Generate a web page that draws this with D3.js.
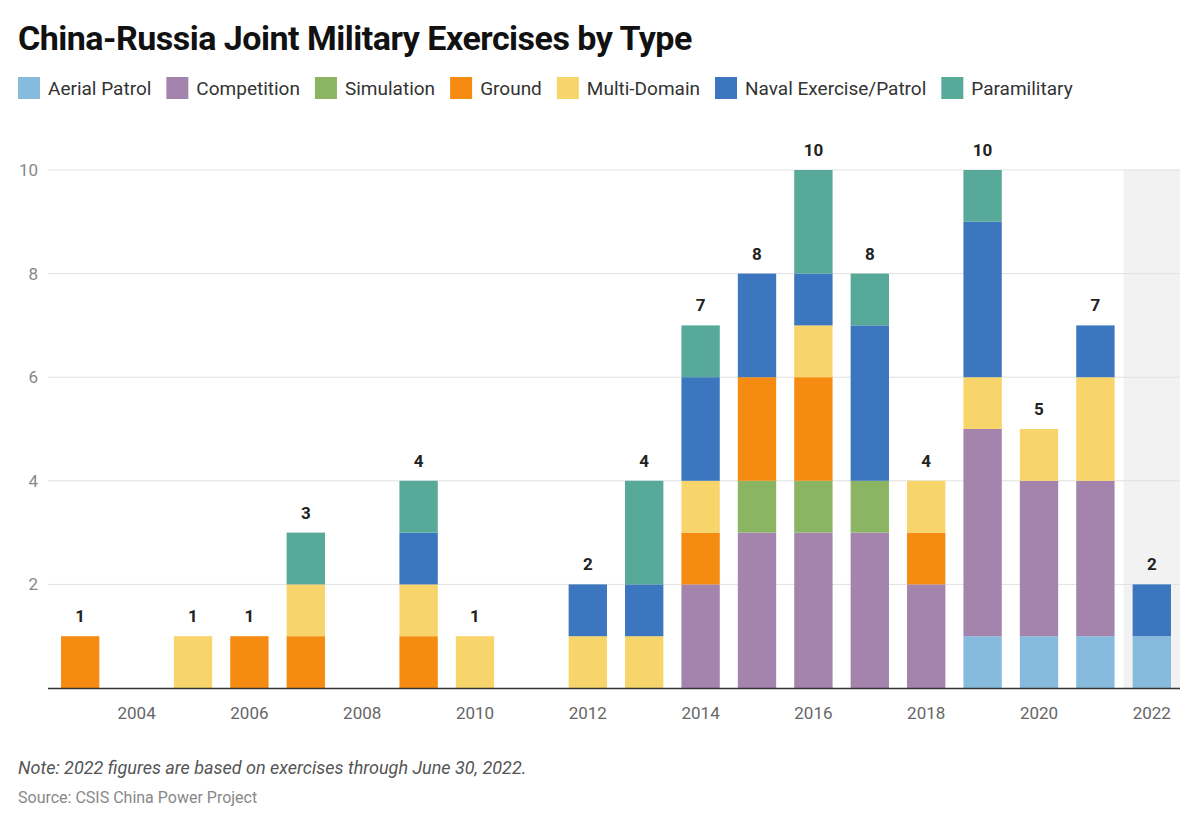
<!DOCTYPE html><html><head><meta charset="utf-8"><script src="https://cdn.jsdelivr.net/npm/d3@7"></script>
<style>body{margin:0;background:#fff;font-family:Roboto,sans-serif}</style></head><body><svg id="c" width="1200" height="825"></svg>
<script>
const years=d3.range(2003,2023);
const seriesNames=["Aerial Patrol","Competition","Simulation","Ground","Multi-Domain","Naval Exercise/Patrol","Paramilitary"];
const colors=["#86bbdd","#a484ac","#8cb563","#f68b12","#f7d56b","#3b76bf","#57a99a"];
const aerial     =[0,0,0,0,0,0,0,0,0,0,0,0,0,0,0,0,1,1,1,1];
const competition=[0,0,0,0,0,0,0,0,0,0,0,2,3,3,3,2,4,3,3,0];
const simulation =[0,0,0,0,0,0,0,0,0,0,0,0,1,1,1,0,0,0,0,0];
const ground     =[1,0,0,1,1,0,1,0,0,0,0,1,2,2,0,1,0,0,0,0];
const multi      =[0,0,1,0,1,0,1,1,0,1,1,1,0,1,0,1,1,1,2,0];
const naval      =[0,0,0,0,0,0,1,0,0,1,1,2,2,1,3,0,3,0,1,1];
const para       =[0,0,0,0,1,0,1,0,0,0,2,1,0,2,1,0,1,0,0,0];
const yTicks=[2,4,6,8,10];
const xTickYears=[2004,2006,2008,2010,2012,2014,2016,2018,2020,2022];
const all=[aerial,competition,simulation,ground,multi,naval,para];
const rows=years.map((y,i)=>{const r={year:y};seriesNames.forEach((s,k)=>r[s]=all[k][i]);return r;});
const svg=d3.select("#c");
const x=d3.scaleBand().domain(years).range([52,1180]).paddingInner(0.32).paddingOuter(0.16);
const y=d3.scaleLinear().domain([0,10]).range([688,170]);
svg.append("rect").attr("x",x(2022)-x.step()*x.paddingInner()/2).attr("y",170).attr("width",1180-(x(2022)-x.step()*x.paddingInner()/2)).attr("height",518).attr("fill","#f2f2f2");
svg.append("g").selectAll("line").data(yTicks).join("line").attr("x1",48).attr("x2",1180).attr("y1",d=>y(d)).attr("y2",d=>y(d)).attr("stroke","#e0e0e0");
svg.append("g").selectAll("text").data(yTicks).join("text").attr("x",38).attr("y",d=>y(d)+6).attr("text-anchor","end").attr("font-size",17).attr("fill","#888").text(d=>d);
const stack=d3.stack().keys(seriesNames)(rows);
svg.append("g").selectAll("g").data(stack).join("g").attr("fill",(d,i)=>colors[i])
 .selectAll("rect").data(d=>d.filter(p=>p[1]>p[0])).join("rect")
 .attr("x",d=>x(d.data.year)).attr("width",x.bandwidth()).attr("y",d=>y(d[1])).attr("height",d=>y(d[0])-y(d[1]));
svg.append("line").attr("x1",48).attr("x2",1180).attr("y1",688.5).attr("y2",688.5).attr("stroke","#333").attr("stroke-width",1.5);
const totals=rows.map(r=>({year:r.year,t:d3.sum(seriesNames,s=>r[s])})).filter(d=>d.t>0);
svg.append("g").selectAll("text").data(totals).join("text").attr("x",d=>x(d.year)+x.bandwidth()/2).attr("y",d=>y(d.t)-14)
 .attr("text-anchor","middle").attr("font-size",17).attr("font-weight","bold").attr("fill","#222").text(d=>d.t);
svg.append("g").selectAll("text").data(xTickYears).join("text").attr("x",d=>x(d)+x.bandwidth()/2).attr("y",719)
 .attr("text-anchor","middle").attr("font-size",17).attr("fill","#666").text(d=>d);
svg.append("text").attr("x",18).attr("y",50).attr("font-size",34).attr("font-weight","bold").attr("fill","#111").attr("letter-spacing",-0.5).text("China-Russia Joint Military Exercises by Type");
let lx=18;
seriesNames.forEach((s,i)=>{
 svg.append("rect").attr("x",lx).attr("y",77).attr("width",22).attr("height",22).attr("fill",colors[i]);
 const t=svg.append("text").attr("x",lx+30).attr("y",95).attr("font-size",19).attr("fill","#333").text(s);
 lx+=30+t.node().getComputedTextLength()+15;
});
svg.append("text").attr("x",18).attr("y",774).attr("font-size",18).attr("font-style","italic").attr("fill","#555").text("Note: 2022 figures are based on exercises through June 30, 2022.");
svg.append("text").attr("x",18).attr("y",803).attr("font-size",16).attr("fill","#888").text("Source: CSIS China Power Project");
</script></body></html>
